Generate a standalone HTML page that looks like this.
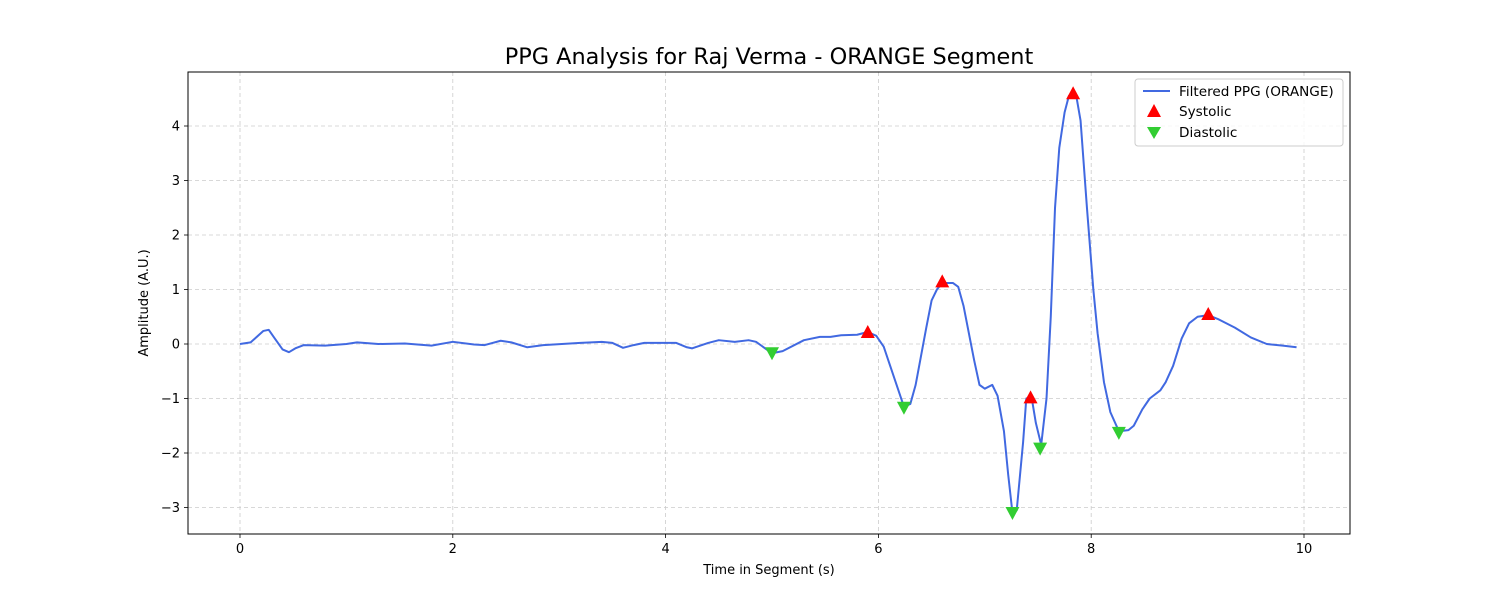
<!DOCTYPE html>
<html><head><meta charset="utf-8"><style>
body{margin:0;background:#fff;}
svg{display:block;font-family:"DejaVu Sans","Liberation Sans",sans-serif;}
</style></head><body>
<svg id="chart" width="1500" height="600"></svg>
<script>
const times=[0,0.1,0.22,0.27,0.32,0.4,0.46,0.52,0.6,0.8,1.0,1.1,1.3,1.55,1.8,2.0,2.2,2.3,2.45,2.55,2.7,2.85,3.2,3.4,3.5,3.6,3.7,3.8,4.0,4.1,4.2,4.25,4.4,4.5,4.65,4.78,4.85,5.0,5.1,5.3,5.45,5.55,5.65,5.8,5.9,5.98,6.05,6.24,6.3,6.35,6.45,6.5,6.55,6.6,6.7,6.75,6.8,6.9,6.95,7.0,7.07,7.12,7.18,7.22,7.26,7.3,7.36,7.39,7.44,7.48,7.53,7.58,7.62,7.66,7.7,7.75,7.79,7.82,7.86,7.9,7.96,8.02,8.06,8.12,8.18,8.26,8.35,8.4,8.48,8.55,8.65,8.7,8.77,8.85,8.92,9.0,9.1,9.2,9.35,9.5,9.65,9.8,9.93];
const amps=[0,0.03,0.24,0.26,0.12,-0.1,-0.15,-0.08,-0.02,-0.03,0,0.03,0,0.01,-0.03,0.04,-0.01,-0.02,0.06,0.03,-0.06,-0.02,0.02,0.04,0.02,-0.07,-0.02,0.02,0.02,0.02,-0.06,-0.08,0.02,0.07,0.04,0.07,0.04,-0.17,-0.13,0.07,0.13,0.13,0.16,0.17,0.22,0.15,-0.05,-1.15,-1.1,-0.75,0.3,0.8,1.0,1.12,1.12,1.05,0.7,-0.3,-0.75,-0.82,-0.75,-0.95,-1.6,-2.4,-3.1,-3.05,-1.8,-1.0,-0.98,-1.45,-1.85,-1.0,0.5,2.5,3.6,4.25,4.55,4.6,4.55,4.1,2.5,1.0,0.2,-0.7,-1.25,-1.6,-1.58,-1.5,-1.2,-1.0,-0.85,-0.7,-0.4,0.1,0.38,0.5,0.53,0.45,0.3,0.12,0.0,-0.03,-0.06];
const sysT=[5.9,6.6,7.43,7.83,9.1];
const sysV=[0.22,1.15,-0.98,4.6,0.55];
const diaT=[5.0,6.24,7.26,7.52,8.26];
const diaV=[-0.17,-1.17,-3.1,-1.92,-1.63];
const xTicks=[0,2,4,6,8,10];
const yTicks=[-3,-2,-1,0,1,2,3,4];
const yLabels=["\u22123","\u22122","\u22121","0","1","2","3","4"];

const NS="http://www.w3.org/2000/svg";
const svg=document.getElementById('chart');
const L=188,R=1350,T=72,B=534;
const xs=t=>240+t*106.4;
const ys=v=>344-v*54.5;
function mk(tag,attrs,parent){const e=document.createElementNS(NS,tag);for(const k in attrs)e.setAttribute(k,attrs[k]);(parent||svg).appendChild(e);return e;}

let e=mk('text',{x:769,y:64,'font-size':22.4,'text-anchor':'middle',fill:'#000'});
e.textContent='PPG Analysis for Raj Verma - ORANGE Segment';



xTicks.forEach(t=>{
  const x=xs(t);
  let g=mk('line',{x1:x,x2:x,y1:T,y2:B,stroke:'#ccc','stroke-dasharray':'4,3','stroke-width':0.8});
  
  
  mk('line',{x1:x,x2:x,y1:B,y2:B+4,stroke:'#000','stroke-width':0.8});
  let l=mk('text',{x:x,y:B+19,'font-size':13,'text-anchor':'middle'});
  l.textContent=t;
  
  
});
yTicks.forEach((v,i)=>{
  const y=ys(v);
  let g=mk('line',{x1:L,x2:R,y1:y,y2:y,stroke:'#ccc','stroke-dasharray':'4,3','stroke-width':0.8});
  
  
  mk('line',{x1:L-4,x2:L,y1:y,y2:y,stroke:'#000','stroke-width':0.8});
  let l=mk('text',{x:L-8,y:y+4.5,'font-size':13,'text-anchor':'end'});
  l.textContent=yLabels[i];
  
  
});

let p=mk('polyline',{points:times.map((t,i)=>xs(t)+','+ys(amps[i])).join(' '),fill:'none',stroke:'#4169e1','stroke-width':2,'stroke-linejoin':'round'});



sysT.forEach((t,i)=>{
  const x=xs(t),y=ys(sysV[i]);
  let m=mk('polygon',{points:`${x},${y-7} ${x-7},${y+6} ${x+7},${y+6}`,fill:'#ff0000'});
  
  
});
diaT.forEach((t,i)=>{
  const x=xs(t),y=ys(diaV[i]);
  let m=mk('polygon',{points:`${x},${y+7} ${x-7},${y-6} ${x+7},${y-6}`,fill:'#32cd32'});
  
  
});

let f=mk('rect',{x:L,y:T,width:R-L,height:B-T,fill:'none',stroke:'#000','stroke-width':1});



e=mk('text',{x:769,y:574,'font-size':13,'text-anchor':'middle'});
e.textContent='Time in Segment (s)';


e=mk('text',{x:0,y:0,'font-size':13,'text-anchor':'middle',transform:'translate(148,303) rotate(-90)'});
e.textContent='Amplitude (A.U.)';



const lg=mk('g',{});


mk('rect',{x:1135,y:79,width:208,height:67,rx:3,fill:'#fff','fill-opacity':0.8,stroke:'#ccc'},lg);
mk('line',{x1:1143,x2:1170,y1:91,y2:91,stroke:'#4169e1','stroke-width':2},lg);
mk('polygon',{points:'1154,104 1147,117 1161,117',fill:'#ff0000'},lg);
mk('polygon',{points:'1154,139 1147,127 1161,127',fill:'#32cd32'},lg);
[['Filtered PPG (ORANGE)',96,'legend-entry-ppg'],['Systolic',116,'legend-entry-systolic'],['Diastolic',137,'legend-entry-diastolic']].forEach(a=>{
  let t=mk('text',{x:1179,y:a[1],'font-size':13.6},lg);
  t.textContent=a[0];
  
  
});
</script>
</body></html>
